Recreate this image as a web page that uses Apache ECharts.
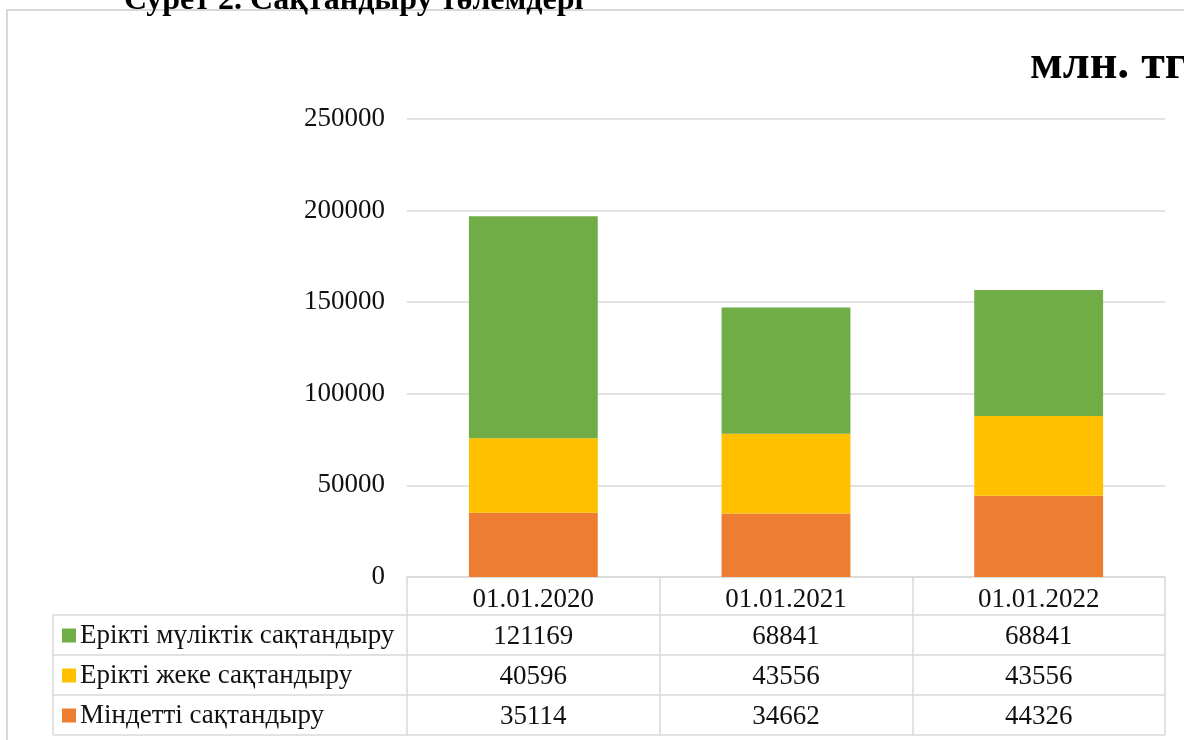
<!DOCTYPE html>
<html>
<head>
<meta charset="utf-8">
<script src="https://cdn.jsdelivr.net/npm/echarts@6/dist/echarts.min.js"></script>
<style>
html,body{margin:0;padding:0;background:#fff;}
#chart{width:1184px;height:740px;}
</style>
</head>
<body>
<div id="chart"></div>
<script>
const categories = ['01.01.2020', '01.01.2021', '01.01.2022'];
const seriesNames = ['Ерікті мүліктік сақтандыру', 'Ерікті жеке сақтандыру', 'Міндетті сақтандыру'];
const voluntaryProperty = [121169, 68841, 68841];
const voluntaryPersonal = [40596, 43556, 43556];
const mandatory = [35114, 34662, 44326];
const yTicks = [0, 50000, 100000, 150000, 200000, 250000];
const titleText = 'Сурет 2. Сақтандыру төлемдері';
const unitText = 'млн. тг';

const colors = { prop: '#70AD47', pers: '#FFC000', mand: '#ED7D31' };
const FONT = '"Liberation Serif", "Times New Roman", serif';
const FS = 27;
const border = '#d9d9d9';

function rowAxis(data, offset) {
  return {
    type: 'category', data: data.map(String), position: 'bottom', offset: offset,
    axisLine: { show: false }, axisTick: { show: false },
    axisLabel: { interval: 0, margin: 8, fontFamily: FONT, fontSize: FS, color: '#111' }
  };
}
function legendRow(name, top) {
  return {
    orient: 'vertical', left: 62, top: top, padding: 0,
    data: [name], itemGap: 0,
    icon: 'rect', itemWidth: 14, itemHeight: 14,
    textStyle: { fontFamily: FONT, fontSize: FS, color: '#111', padding: [0, 0, 0, -1] },
    selectedMode: false
  };
}

const chart = echarts.init(document.getElementById('chart'));
chart.setOption({
  animation: false,
  backgroundColor: '#fff',
  grid: { left: 407, right: 19, top: 119, bottom: 163, containLabel: false },
  legend: [
    legendRow(seriesNames[0], 622),
    legendRow(seriesNames[1], 662),
    legendRow(seriesNames[2], 702)
  ],
  xAxis: [
    {
      type: 'category', data: categories,
      axisLine: { show: true, lineStyle: { color: border, width: 1.5 } },
      axisTick: { show: true, length: 158, lineStyle: { color: border, width: 1.5 } },
      axisLabel: { interval: 0, margin: 9, fontFamily: FONT, fontSize: FS, color: '#111' }
    },
    rowAxis(voluntaryProperty, 38),
    rowAxis(voluntaryPersonal, 78),
    rowAxis(mandatory, 118)
  ],
  yAxis: {
    type: 'value', min: yTicks[0], max: yTicks[yTicks.length - 1], interval: 50000,
    axisLine: { show: false }, axisTick: { show: false },
    axisLabel: { margin: 22, fontFamily: FONT, fontSize: FS, color: '#111', formatter: v => String(v) },
    splitLine: { lineStyle: { color: border, width: 1.5 } }
  },
  series: [
    { name: seriesNames[2], type: 'bar', stack: 'total', data: mandatory, barWidth: '51%', itemStyle: { color: colors.mand } },
    { name: seriesNames[1], type: 'bar', stack: 'total', data: voluntaryPersonal, itemStyle: { color: colors.pers } },
    { name: seriesNames[0], type: 'bar', stack: 'total', data: voluntaryProperty, itemStyle: { color: colors.prop } }
  ],
  graphic: [
    { type: 'rect', silent: true, shape: { x: 7, y: 10, width: 1300, height: 900 },
      style: { fill: null, stroke: border, lineWidth: 2 } },
    { type: 'text', silent: true, z: 10, style: { text: titleText, x: 124, y: 17, font: 'bold 32px ' + FONT, fill: '#000', verticalAlign: 'bottom' } },
    { type: 'text', silent: true, style: { text: unitText, x: 1030, y: 66, font: 'bold 48px ' + FONT, fill: '#000', verticalAlign: 'middle' } },
    { type: 'line', silent: true, shape: { x1: 53, y1: 615, x2: 1165, y2: 615 }, style: { stroke: border, lineWidth: 1.5 } },
    { type: 'line', silent: true, shape: { x1: 53, y1: 655, x2: 1165, y2: 655 }, style: { stroke: border, lineWidth: 1.5 } },
    { type: 'line', silent: true, shape: { x1: 53, y1: 695, x2: 1165, y2: 695 }, style: { stroke: border, lineWidth: 1.5 } },
    { type: 'line', silent: true, shape: { x1: 53, y1: 735, x2: 1165, y2: 735 }, style: { stroke: border, lineWidth: 1.5 } },
    { type: 'line', silent: true, shape: { x1: 53, y1: 615, x2: 53, y2: 735 }, style: { stroke: border, lineWidth: 1.5 } }
  ]
});
</script>
</body>
</html>
